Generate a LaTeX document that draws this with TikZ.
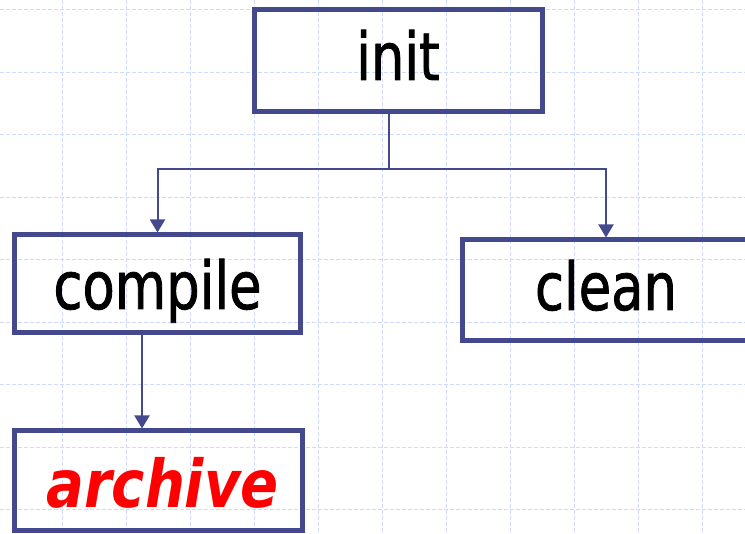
\documentclass[tikz,border=0pt]{standalone}
\usepackage{fontspec}
\usetikzlibrary{arrows.meta}
\newfontfamily\boxfont[FakeStretch=0.8, FakeBold=1.2]{DejaVu Sans}
\newfontfamily\boxfontbi[FakeStretch=0.85]{DejaVu Sans Bold Oblique}
\definecolor{boxblue}{RGB}{68,73,142}
\definecolor{gridblue}{RGB}{208,218,250}
\definecolor{archred}{RGB}{255,0,0}
\tikzset{
  gridline/.style={draw=gridblue, line width=1pt, dash pattern=on 4pt off 2pt},
  taskbox/.style={draw=boxblue, line width=5pt, inner sep=0pt, minimum width=288pt,
    font=\boxfont\fontsize{66}{70}\selectfont, text depth=0pt, text height=50pt, align=center},
  conn/.style={draw=boxblue, line width=2pt},
  arr/.style={conn, -{Triangle[width=15pt,length=13pt]}},
}
\begin{document}
\begin{tikzpicture}[x=1pt, y=-1pt]
\useasboundingbox (0,0) rectangle (745,534);
\clip (0,0) rectangle (745,534);
% grid
\foreach \gx in {-2,62,...,766} { \draw[gridline] (\gx,0) -- (\gx,534); }
\foreach \gy in {10,72.5,...,540} { \draw[gridline] (0,\gy) -- (745,\gy); }
% boxes
\node[taskbox, minimum height=102pt, text height=38pt] (init) at (398,61) {init};
\node[taskbox, minimum width=286pt, minimum height=98pt] (compile) at (157.5,284) {compile};
\node[taskbox, minimum height=101pt, text height=39pt] (clean) at (606,290.5) {clean};
\node[taskbox, minimum height=100pt, text height=54pt, font=\boxfontbi\fontsize{66}{70}\selectfont, text=archred] (archive) at (158.5,481) {\hspace*{8pt}archive};
% connectors
\coordinate (split) at (389,169);
\draw[conn] (init.south -| split) -- (split);
\draw[arr] (split) -| (compile.north);
\draw[arr] (split) -| (clean.north);
\coordinate (down) at (142,0);
\draw[arr] (compile.south -| down) -- (archive.north -| down);
\end{tikzpicture}
\end{document}
